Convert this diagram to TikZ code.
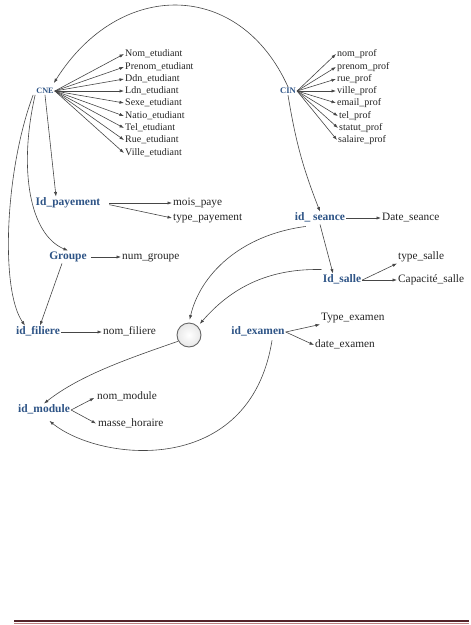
\documentclass[tikz,border=0pt]{standalone}
\usepackage{fontspec}
\setmainfont{Liberation Serif}
\usetikzlibrary{arrows.meta,calc}
\definecolor{keyblue}{RGB}{46,84,134}
\definecolor{attrtxt}{RGB}{35,35,35}
\definecolor{linegray}{RGB}{70,70,70}
\definecolor{barDark}{RGB}{84,36,42}
\definecolor{barLight}{RGB}{190,130,130}
\begin{document}
\begin{tikzpicture}[x=1pt,y=-1pt,
  attrS/.style={anchor=west,inner sep=1pt,text=attrtxt,font=\fontsize{10}{12}\selectfont,text height=7pt,text depth=2pt},
  attrL/.style={anchor=west,inner sep=1pt,text=attrtxt,font=\fontsize{11.3}{13}\selectfont,text height=8pt,text depth=2.5pt},
  keyL/.style={inner sep=1pt,text=keyblue,font=\bfseries\fontsize{11.5}{13}\selectfont,text height=8pt,text depth=2.5pt},
  keyS/.style={inner sep=1pt,text=keyblue,font=\bfseries\fontsize{8.6}{10}\selectfont},
  arr/.style={draw=linegray,line width=0.6pt,-{Latex[length=4.5pt,width=3.2pt]}}
]
\useasboundingbox (0,0) rectangle (471,625);

% top keys
\node[keyS,font=\bfseries\fontsize{8.2}{10}\selectfont] (cne) at (45,91) {CNE};
\node[keyS] (cin) at (288,91) {CIN};

% student attributes
\node[attrS] (s1) at (124,54) {Nom\_etudiant};
\node[attrS] (s2) at (124,67) {Prenom\_etudiant};
\node[attrS] (s3) at (124,79) {Ddn\_etudiant};
\node[attrS] (s4) at (124,91) {Ldn\_etudiant};
\node[attrS] (s5) at (124,103) {Sexe\_etudiant};
\node[attrS] (s6) at (124,116) {Natio\_etudiant};
\node[attrS] (s7) at (124,128) {Tel\_etudiant};
\node[attrS] (s8) at (124,140) {Rue\_etudiant};
\node[attrS] (s9) at (124,153) {Ville\_etudiant};
\foreach \i in {1,...,9} \draw[arr] (cne.east) -- (s\i.west);

% prof attributes
\node[attrS] (p1) at (336,54) {nom\_prof};
\node[attrS] (p2) at (336,67) {prenom\_prof};
\node[attrS] (p3) at (336,79) {rue\_prof};
\node[attrS] (p4) at (336,91) {ville\_prof};
\node[attrS] (p5) at (336,103) {email\_prof};
\node[attrS] (p6) at (338,116) {tel\_prof};
\node[attrS] (p7) at (338,128) {statut\_prof};
\node[attrS] (p8) at (337,140) {salaire\_prof};
\foreach \i in {1,...,8} \draw[arr] (cin.east) -- (p\i.west);

% big arc CIN -> CNE
\draw[arr] (cin.north) .. controls (240,-20) and (120,-22) .. ($(cne.north east)+(-1,-4)$);

% payement
\node[keyL] (pay) at (68,203) {Id\_payement};
\node[attrL] (mois) at (172,203) {mois\_paye};
\node[attrL] (typep) at (172,218) {type\_payement};
\draw[arr,shorten <=8pt] (pay.east) -- (mois.west);
\draw[arr,shorten <=8pt] (pay.east) -- (typep.west);
\draw[arr] (cne.south) -- ($(pay.north)+(-12,0)$);

% groupe
\node[keyL] (grp) at (68,257) {Groupe};
\node[attrL] (numg) at (121,257) {num\_groupe};
\draw[arr,shorten <=3pt] (grp.east) -- (numg.west);
\draw[arr] (cne.south west) .. controls (18,170) and (30,235) .. (grp.north);

% filiere
\node[keyL] (fil) at (38,332) {id\_filiere};
\node[attrL] (nomf) at (102,332) {nom\_filiere};
\draw[arr] (fil.east) -- (nomf.west);
\draw[arr] ($(cne.south west)+(-2,0)$) .. controls (5,170) and (0,290) .. ($(fil.north)+(-13,0)$);
\draw[arr] ($(grp.south)+(-6,0)$) -- ($(fil.north)+(2,0)$);

% seance
\node[keyL] (sea) at (320,218) {id\_ seance};
\node[attrL] (dates) at (381,218) {Date\_seance};
\draw[arr] (sea.east) -- (dates.west);
\draw[arr] (cin.south) to[bend right=6] (sea.north);

% salle
\node[keyL] (sal) at (342,280) {Id\_salle};
\node[attrL] (types) at (397,257) {type\_salle};
\node[attrL] (caps) at (397,280) {Capacité\_salle};
\draw[arr] (sea.south) -- ($(sal.north)+(-9,0)$);
\draw[arr] (sal.east) -- (types.south west);
\draw[arr] (sal.east) -- (caps.west);

% circle
\node[circle,minimum size=24pt,inner sep=0pt,draw=gray!80!black,line width=0.9pt,inner color=white,outer color=gray!18] (circ) at (189,335) {};
\draw[arr,shorten >=3pt] ($(sea.south west)+(12,2)$) .. controls (240,235) and (200,275) .. (circ.north);
\draw[arr,shorten >=3pt] ($(sal.north west)+(0,-4)$) .. controls (260,268) and (225,295) .. (circ.north east);

% examen
\node[keyL] (exa) at (258,332) {id\_examen};
\node[attrL] (typee) at (320,318) {Type\_examen};
\node[attrL] (datee) at (314,345) {date\_examen};
\draw[arr] (exa.east) -- (typee.south west);
\draw[arr] (exa.east) -- (datee.west);

% module
\node[keyL] (mod) at (44,410) {id\_module};
\node[attrL] (nomm) at (96,397) {nom\_module};
\node[attrL] (mass) at (97,424) {masse\_horaire};
\draw[arr,shorten >=2pt] (mod.east) -- (nomm.west);
\draw[arr,shorten >=1pt] (mod.east) -- (mass.west);
\draw[arr] (circ.210) .. controls (130,358) and (80,375) .. (mod.north);
\draw[arr,shorten >=7pt] ($(exa.south)+(14,2)$) .. controls (250,478) and (100,462) .. (mod.south);

% bottom rule
\draw[barDark,line width=2pt] (14,621) -- (469,621);
\draw[barLight,line width=1pt] (14,623.3) -- (469,623.3);
\end{tikzpicture}
\end{document}
